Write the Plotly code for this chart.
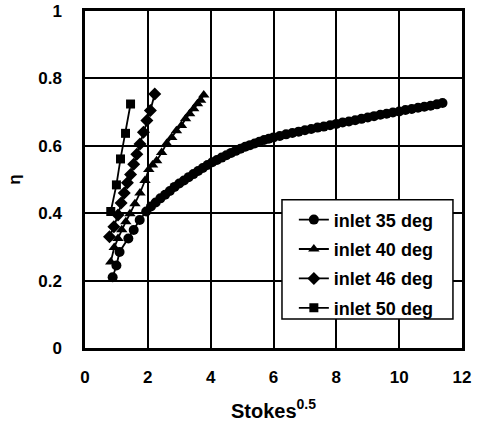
import plotly.graph_objects as go

# inlet 35 deg (circles)
x35 = [0.88, 1.0, 1.1, 1.38, 1.55, 1.74, 1.95, 2.1, 2.25, 2.4, 2.55, 2.7, 2.85, 3.0, 3.15, 3.3,
       3.45, 3.6, 3.75, 3.9, 4.05, 4.2, 4.35, 4.5, 4.65, 4.8, 4.95, 5.1, 5.25, 5.4, 5.55, 5.7,
       5.85, 6.0, 6.2, 6.4, 6.6, 6.8, 7.0, 7.2, 7.4, 7.6, 7.8, 8.0, 8.2, 8.4, 8.6, 8.8, 9.0,
       9.2, 9.4, 9.6, 9.8, 10.0, 10.2, 10.4, 10.6, 10.8, 11.0, 11.2, 11.38]
y35 = [0.21, 0.245, 0.285, 0.325, 0.35, 0.38, 0.405, 0.42, 0.432, 0.444, 0.455, 0.466, 0.478,
       0.488, 0.497, 0.507, 0.516, 0.525, 0.534, 0.543, 0.551, 0.558, 0.565, 0.572, 0.579,
       0.585, 0.591, 0.597, 0.602, 0.607, 0.612, 0.617, 0.621, 0.625, 0.629, 0.634, 0.638,
       0.642, 0.646, 0.65, 0.654, 0.657, 0.661, 0.665, 0.669, 0.672, 0.676, 0.68, 0.684,
       0.688, 0.692, 0.695, 0.699, 0.702, 0.706, 0.709, 0.713, 0.716, 0.719, 0.723, 0.727]

# inlet 40 deg (triangles)
x40 = [0.82, 0.93, 1.05, 1.17, 1.3, 1.43, 1.59, 1.75, 1.91, 2.03, 2.15, 2.28, 2.44, 2.6, 2.76,
       2.91, 3.07, 3.2, 3.33, 3.46, 3.58, 3.68, 3.78]
y40 = [0.255, 0.298, 0.325, 0.351, 0.375, 0.398, 0.428, 0.46, 0.497, 0.53, 0.543, 0.556, 0.58,
       0.607, 0.625, 0.645, 0.66, 0.68, 0.695, 0.71, 0.725, 0.735, 0.751]

# inlet 46 deg (diamonds)
x46 = [0.78, 0.92, 1.05, 1.15, 1.25, 1.35, 1.45, 1.55, 1.65, 1.75, 1.86, 1.97, 2.08, 2.22]
y46 = [0.33, 0.36, 0.395, 0.43, 0.46, 0.49, 0.515, 0.545, 0.575, 0.605, 0.64, 0.675, 0.705, 0.754]

# inlet 50 deg (squares)
x50 = [0.82, 1.0, 1.13, 1.29, 1.45]
y50 = [0.405, 0.484, 0.561, 0.637, 0.724]

names = ["inlet 35 deg", "inlet 40 deg", "inlet 46 deg", "inlet 50 deg"]
xticks = [0, 2, 4, 6, 8, 10, 12]
yticks = [0, 0.2, 0.4, 0.6, 0.8, 1]
ytick_text = ["0", "0.2", "0.4", "0.6", "0.8", "1"]

FONT = "Liberation Sans, Arial, sans-serif"

series = [
    (x35, y35, "circle", 10),
    (x40, y40, "triangle-up", 10),
    (x46, y46, "diamond", 10),
    (x50, y50, "square", 9),
]

fig = go.Figure()
for (xs, ys, sym, sz), nm in zip(series, names):
    fig.add_trace(go.Scatter(
        x=xs, y=ys, mode="lines+markers", name=nm, legendgroup=nm,
        line=dict(color="black", width=1.8),
        marker=dict(symbol=sym, size=sz, color="black"),
    ))

# legend frame (white box with black border)
fig.add_shape(type="rect", xref="paper", yref="paper",
              x0=0.5225, x1=0.976, y0=0.086, y1=0.44,
              line=dict(color="black", width=1.5), fillcolor="white", layer="above")

fig.update_layout(
    width=483, height=430,
    margin=dict(l=85, r=21, t=11, b=82),
    paper_bgcolor="white", plot_bgcolor="white",
    font=dict(family=FONT, size=16, color="black", weight="bold"),
    showlegend=True,
    legend=dict(
        x=0.554, y=0.435, xanchor="left", yanchor="top",
        bgcolor="rgba(0,0,0,0)", borderwidth=0,
        font=dict(family=FONT, size=18, color="black", weight="bold"),
        itemwidth=30, tracegroupgap=3,
    ),
    xaxis=dict(
        range=[0, 12], tickvals=xticks, ticktext=[str(v) for v in xticks],
        showgrid=True, gridcolor="black", gridwidth=1.5,
        showline=True, linecolor="black", linewidth=2.5, mirror=True,
        zeroline=False, ticks="", ticklabelstandoff=12, automargin=False,
        tickfont=dict(family=FONT, size=17, weight="bold"),
        title=dict(text="Stokes<sup>0.5</sup>", standoff=18,
                   font=dict(family=FONT, size=20, weight="bold")),
    ),
    yaxis=dict(
        range=[0, 1], tickvals=yticks, ticktext=ytick_text,
        showgrid=True, gridcolor="black", gridwidth=1.5,
        showline=True, linecolor="black", linewidth=2.5, mirror=True,
        zeroline=False, ticks="", ticklabelstandoff=17, automargin=False,
        tickfont=dict(family=FONT, size=17, weight="bold"),
        title=dict(text="η", standoff=14,
                   font=dict(family=FONT, size=17, weight="bold")),
    ),
)

fig.write_html("out.html", config={"displayModeBar": False},
               post_script="document.body.style.margin='0px';document.body.style.overflow='hidden';")
